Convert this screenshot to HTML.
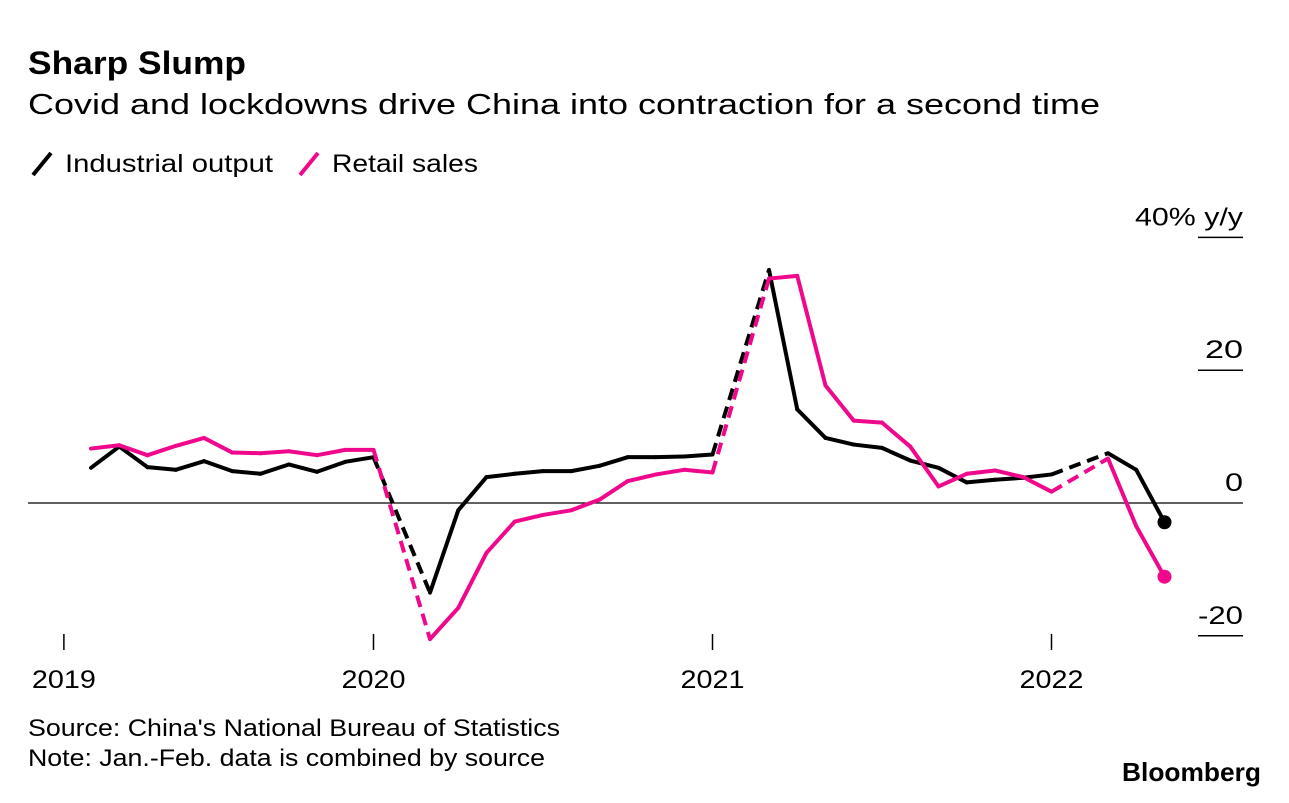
<!DOCTYPE html>
<html><head><meta charset="utf-8">
<style>
body{margin:0;background:#fff;font-family:"Liberation Sans",Arial,sans-serif;}
svg text{font-family:"Liberation Sans",Arial,sans-serif;}
</style></head>
<body>
<svg id="chart" width="1289" height="798" viewBox="0 0 1289 798" xmlns="http://www.w3.org/2000/svg">
<text x="28" y="74" font-size="32" font-weight="bold" fill="#000" textLength="218" lengthAdjust="spacingAndGlyphs">Sharp Slump</text>
<text x="28" y="114" font-size="29" fill="#000" textLength="1072" lengthAdjust="spacingAndGlyphs">Covid and lockdowns drive China into contraction for a second time</text>
<g>
<line x1="33" y1="175" x2="51" y2="153" stroke="#000" stroke-width="4"/>
<text x="65" y="172" font-size="25" textLength="208" lengthAdjust="spacingAndGlyphs">Industrial output</text>
<line x1="300" y1="175" x2="318" y2="153" stroke="#f0088c" stroke-width="4"/>
<text x="332" y="172" font-size="25" textLength="146" lengthAdjust="spacingAndGlyphs">Retail sales</text>
</g>
<g id="yaxis"></g>
<g id="xaxis"></g>
<g id="series"></g>
<text x="28" y="736" font-size="24" textLength="532" lengthAdjust="spacingAndGlyphs">Source: China's National Bureau of Statistics</text>
<text x="28" y="766" font-size="24" textLength="517" lengthAdjust="spacingAndGlyphs">Note: Jan.-Feb. data is combined by source</text>
<text x="1261" y="781" font-size="26" font-weight="bold" text-anchor="end" textLength="139" lengthAdjust="spacingAndGlyphs">Bloomberg</text>
</svg>
<script>
const months = [2,3,4,5,6,7,8,9,10,11,12,14,15,16,17,18,19,20,21,22,23,24,26,27,28,29,30,31,32,33,34,35,36,38,39,40];
const industrial = [5.3,8.5,5.4,5.0,6.3,4.8,4.4,5.8,4.7,6.2,6.9,-13.5,-1.1,3.9,4.4,4.8,4.8,5.6,6.9,6.9,7.0,7.3,35.1,14.1,9.8,8.8,8.3,6.4,5.3,3.1,3.5,3.8,4.3,7.5,5.0,-2.9];
const retail = [8.2,8.7,7.2,8.6,9.8,7.6,7.5,7.8,7.2,8.0,8.0,-20.5,-15.8,-7.5,-2.8,-1.8,-1.1,0.5,3.3,4.3,5.0,4.6,33.8,34.2,17.7,12.4,12.1,8.5,2.5,4.4,4.9,3.9,1.7,6.7,-3.5,-11.1];
const yTicks = [40,20,0,-20];
const yTickLabels = ["40% y/y","20","0","-20"];
const yLabelWidths = [108,38,18,45];
const xTickMonths = [1.04,12,24,36];
const xTickLabels = ["2019","2020","2021","2022"];

const NS="http://www.w3.org/2000/svg";
const xs = m => 34.5 + m*28.25;
const ys = v => 503 - v*6.64;
function mk(tag, attrs, parent){const e=document.createElementNS(NS,tag);for(const k in attrs)e.setAttribute(k,attrs[k]);parent.appendChild(e);return e;}

const yax=document.getElementById('yaxis');
yTicks.forEach((t,i)=>{
  if(t!==0){
    const l=mk('line',{x1:1198,x2:1243,y1:ys(t),y2:ys(t),stroke:'#000','stroke-width':1.5},yax);
    
    
  }
  const tx=mk('text',{x:1243,y:ys(t)-12,'font-size':25,'text-anchor':'end',textLength:yLabelWidths[i],lengthAdjust:'spacingAndGlyphs'},yax);
  tx.textContent=yTickLabels[i];
  
  
});
const zl=mk('line',{x1:28,x2:1243,y1:ys(0),y2:ys(0),stroke:'#000','stroke-width':1.2},yax);



const xax=document.getElementById('xaxis');
xTickMonths.forEach((m,i)=>{
  const x=xs(m);
  const l=mk('line',{x1:x,x2:x,y1:634,y2:650,stroke:'#000','stroke-width':1.5},xax);
  
  
  const tx=mk('text',{x:x-32,y:688,'font-size':25,textLength:64,lengthAdjust:'spacingAndGlyphs'},xax);
  tx.textContent=xTickLabels[i];
  
  
});

const ser=document.getElementById('series');
function draw(vals,color,name){
  const g=mk('g',{},ser);
  
  
  for(let i=1;i<months.length;i++){
    const gap=months[i]-months[i-1]>1;
    const l=mk('line',{x1:xs(months[i-1]),y1:ys(vals[i-1]),x2:xs(months[i]),y2:ys(vals[i]),stroke:color,'stroke-width':4,'stroke-linecap':gap?'butt':'round'},g);
    if(gap)l.setAttribute('stroke-dasharray','12 7');
    
    
  }
  const n=months.length-1;
  const c=mk('circle',{cx:xs(months[n]),cy:ys(vals[n]),r:7,fill:color},g);
  
  
}
draw(industrial,'#000','industrial-output');
draw(retail,'#f0088c','retail-sales');
</script>
</body></html>
